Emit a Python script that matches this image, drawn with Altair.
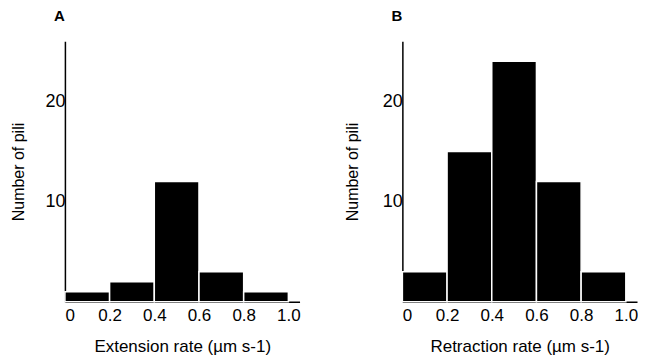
import altair as alt
import pandas as pd

bin_start = [0.0, 0.2, 0.4, 0.6, 0.8]
bin_end = [0.2, 0.4, 0.6, 0.8, 1.0]
extension_counts = [1, 2, 12, 3, 1]
retraction_counts = [3, 15, 24, 12, 3]
x_ticks = [0, 0.2, 0.4, 0.6, 0.8, 1.0]
y_ticks = [10, 20]

FONT = "Liberation Sans"


def panel(counts, letter, xtitle, title_pad):
    df = pd.DataFrame({"start": bin_start, "end": bin_end, "count": counts})
    return (
        alt.Chart(df)
        .mark_rect(color="black", stroke="white", strokeWidth=1.5)
        .encode(
            x=alt.X(
                "start:Q",
                scale=alt.Scale(domain=[0, 1.05], nice=False, zero=False),
                axis=alt.Axis(
                    values=x_ticks,
                    labelExpr="datum.value == 0 ? '0' : format(datum.value, '.1f')",
                    title=xtitle,
                    ticks=False,
                    labelPadding=6,
                    labelFontSize=17,
                    titleFontSize=17,
                    titlePadding=15,
                ),
            ),
            x2="end:Q",
            y=alt.Y(
                "count:Q",
                scale=alt.Scale(domain=[0, 26], nice=False),
                axis=alt.Axis(
                    values=y_ticks,
                    title="Number of pili",
                    ticks=False,
                    labelPadding=0,
                    labelFontSize=18,
                    titleFontSize=16,
                    titlePadding=title_pad,
                ),
            ),
            y2=alt.datum(0),
        )
        .properties(
            width=235,
            height=261,
            title=alt.TitleParams(
                letter, anchor="start", frame="group", dx=-11, offset=17,
                fontSize=15, fontWeight="bold", font=FONT, color="black",
            ),
        )
    )


chart = (
    alt.hconcat(
        panel(extension_counts, "A", "Extension rate (µm s-1)", 18),
        panel(retraction_counts, "B", "Retraction rate (µm s-1)", 22),
        spacing=43,
    )
    .properties(padding={"top": 1, "left": 2, "right": 0, "bottom": 0})
    .configure_view(stroke=None)
    .configure_axis(
        grid=False,
        domainColor="black",
        domainWidth=1.5,
        labelFont=FONT,
        titleFont=FONT,
        titleFontWeight="normal",
        labelColor="black",
        titleColor="black",
    )
)

chart.save("out.html", embed_options={"renderer": "svg", "actions": False})
